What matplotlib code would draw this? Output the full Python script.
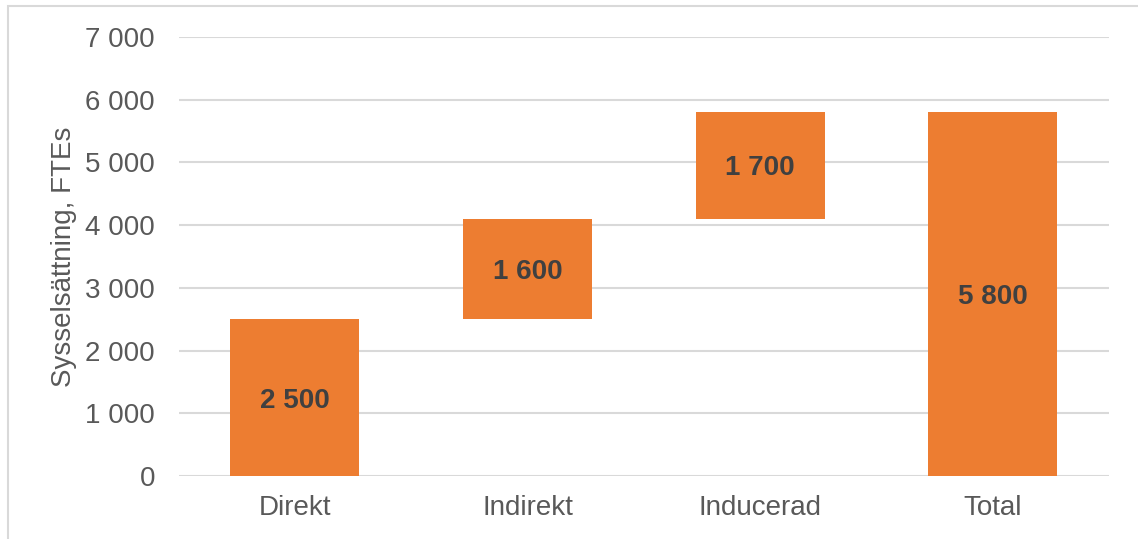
import matplotlib.pyplot as plt
from matplotlib.patches import Rectangle

categories = ['Direkt', 'Indirekt', 'Inducerad', 'Total']
values = [2500, 1600, 1700, 5800]
bottoms = [0, 2500, 4100, 0]
labels = ['2 500', '1 600', '1 700', '5 800']
yticks = [0, 1000, 2000, 3000, 4000, 5000, 6000, 7000]
ytick_labels = ['0', '1 000', '2 000', '3 000', '4 000', '5 000', '6 000', '7 000']

plt.rcParams['font.family'] = ['Liberation Sans', 'DejaVu Sans']

fig = plt.figure(figsize=(11.38, 5.39), dpi=100)
ax = fig.add_axes([0.157, 0.117, 0.8175, 0.8145])

x = range(len(categories))
ax.bar(x, values, bottom=bottoms, width=0.555, color='#ED7D31', zorder=3)

for i in x:
    ax.text(i, bottoms[i] + values[i] / 2, labels[i], ha='center', va='center_baseline',
            fontsize=20, fontweight='bold', color='#404040', zorder=4)

ax.set_xlim(-0.5, 3.5)
ax.set_ylim(0, 7000)
ax.set_yticks(yticks)
ax.set_yticklabels(ytick_labels)
ax.set_xticks(list(x))
ax.set_xticklabels(categories)
ax.tick_params(axis='y', length=0, pad=17, labelsize=20, labelcolor='#595959')
ax.tick_params(axis='x', length=0, pad=14, labelsize=20, labelcolor='#595959')
ax.grid(axis='y', color='#d9d9d9', linewidth=1.5, zorder=0)
ax.set_axisbelow(True)
for s in ax.spines.values():
    s.set_visible(False)

ax.set_ylabel('Sysselsättning, FTEs', fontsize=20, color='#595959', labelpad=6)

# ram runt diagrammet (bara vänster och topp syns)
fig.patches.append(Rectangle((8 / 1138, -0.05), 1.1, 1.05 - 6 / 539, transform=fig.transFigure,
                             fill=False, edgecolor='#d9d9d9', linewidth=1.5))

fig.savefig('out.png', dpi=100)
